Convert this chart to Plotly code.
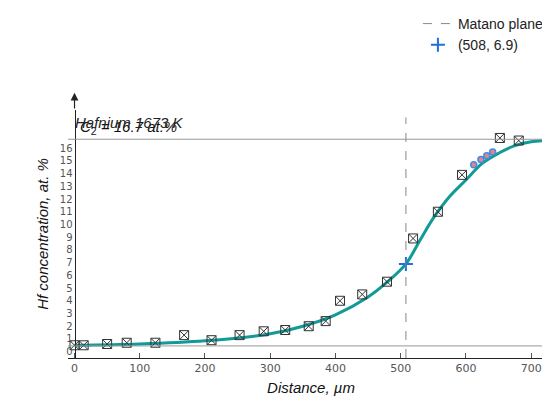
import plotly.graph_objects as go

exp_x = [0, 14, 50, 80, 124, 168, 210, 253, 290, 323, 359, 385, 407, 441, 479, 519, 557, 594, 652, 681]
exp_y = [0.5, 0.5, 0.6, 0.7, 0.7, 1.3, 0.9, 1.3, 1.6, 1.7, 2.0, 2.4, 4.0, 4.5, 5.5, 8.9, 11.0, 13.9, 16.8, 16.6]
fit_x = [0, 100, 200, 300, 350, 400, 450, 480, 508, 530, 550, 575, 600, 625, 650, 675, 700, 735]
fit_y = [0.5, 0.6, 0.85, 1.4, 2.0, 2.9, 4.3, 5.5, 6.9, 8.8, 10.5, 12.2, 13.5, 14.8, 15.6, 16.2, 16.5, 16.65]
red_x = [612, 623, 632, 641]
red_y = [14.7, 15.1, 15.4, 15.7]
matano = (508, 6.9)
c2 = 16.7
c1 = 0.45

fig = go.Figure()
fig.add_trace(go.Scatter(x=fit_x, y=fit_y, mode="lines", line=dict(color="#109a98", width=3, shape="spline"), showlegend=False))
fig.add_trace(go.Scatter(x=exp_x, y=exp_y, mode="markers", showlegend=False,
                         marker=dict(symbol="square-x-open", size=9, color="#333", line=dict(width=1))))
fig.add_trace(go.Scatter(x=red_x, y=red_y, mode="markers", showlegend=False,
                         marker=dict(symbol="circle", size=6, color="#f08080", line=dict(color="#3a8ee8", width=1.5))))
fig.add_trace(go.Scatter(x=[None], y=[None], mode="lines", name="Matano plane", line=dict(color="#888", dash="dash", width=1)))
fig.add_trace(go.Scatter(x=[matano[0]], y=[matano[1]], mode="markers", name="(508, 6.9)",
                         marker=dict(symbol="cross-thin", size=10, color="#1e6fe0", line=dict(color="#1e6fe0", width=2))))
fig.add_shape(type="line", xref="x", yref="paper", x0=matano[0], x1=matano[0], y0=0, y1=0.97,
              line=dict(color="#888", dash="dash", width=1))
fig.add_shape(type="line", xref="paper", yref="y", x0=0, x1=1, y0=c2, y1=c2, line=dict(color="#999", width=1.2))
fig.add_shape(type="line", xref="paper", yref="y", x0=0, x1=1, y0=c1, y1=c1, line=dict(color="#999", width=1))
fig.add_annotation(x=0, y=1.07, xref="x", yref="y domain", ax=0, ay=1.0, axref="x", ayref="y domain",
                   showarrow=True, arrowhead=2, arrowsize=1.3, arrowwidth=1.2, arrowcolor="#222", text="")
fig.add_annotation(x=5, y=c2, xref="x", yref="y", xanchor="left", yanchor="bottom", showarrow=False,
                   text="<i>C</i><sub>2</sub><i> = 16.7 at.%</i>", font=dict(size=15, color="#111"))
fig.add_annotation(x=0.01, y=0.99, xref="paper", yref="paper", xanchor="left", yanchor="top", showarrow=False,
                   text="<i>Hafnium 1673 K</i>", font=dict(size=15, color="#222"))
fig.update_layout(
    width=550, height=406, paper_bgcolor="white", plot_bgcolor="white",
    margin=dict(l=60, r=4, t=102, b=56),
    font=dict(family="Liberation Sans, Arial", color="#222"),
    legend=dict(x=0.72, y=1.0, yref="container", xanchor="left", yanchor="top",
                font=dict(size=14), bgcolor="rgba(0,0,0,0)", tracegroupgap=8),
    xaxis=dict(range=[-10, 735], tickvals=[0, 100, 200, 300, 400, 500, 600, 700], showgrid=False, zeroline=False,
               showline=True, linecolor="#222", ticks="inside", ticklen=5, tickcolor="#555",
               tickfont=dict(size=11, color="#555", family="DejaVu Sans"),
               title=dict(text="<i>Distance, µm</i>", font=dict(size=15, color="#111"), standoff=8)),
    yaxis=dict(range=[-0.5, 19], tickvals=list(range(17)), showgrid=False, zeroline=False,
               showline=True, linecolor="#222", ticks="", anchor="free", position=0.0134,
               tickfont=dict(size=10, color="#555", family="DejaVu Sans"),
               title=dict(text="<i>Hf concentration, at. %</i>", font=dict(size=15, color="#111"), standoff=6)),
)
fig.write_html("out.html")
